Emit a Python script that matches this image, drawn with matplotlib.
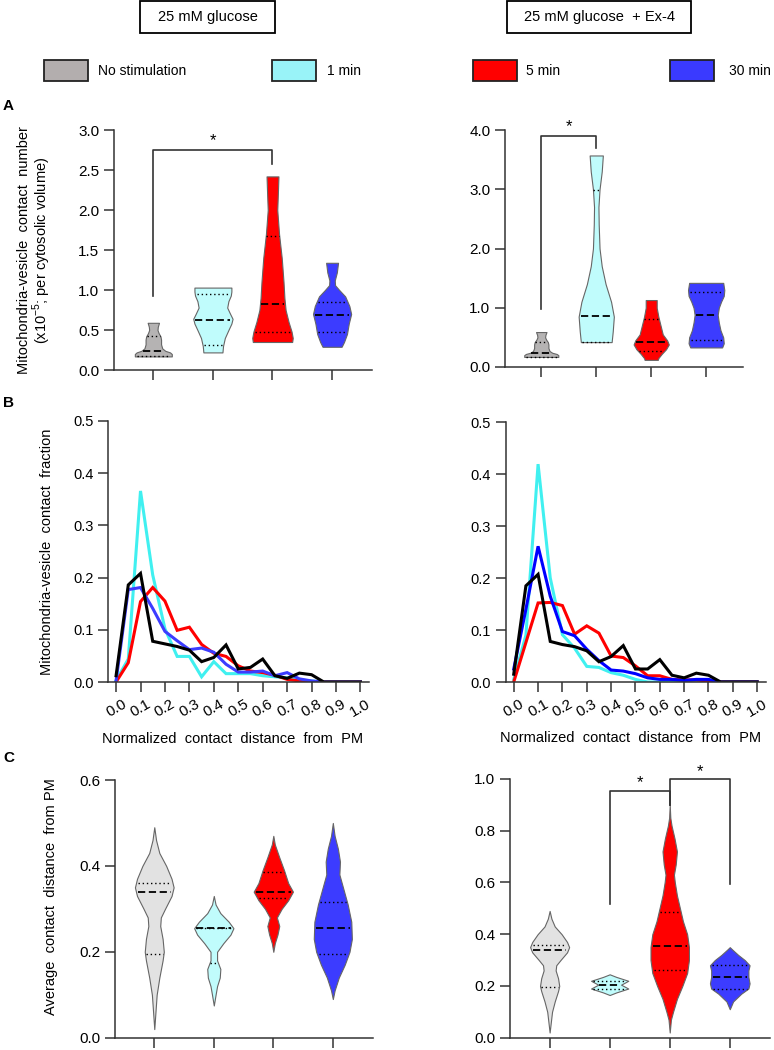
import matplotlib
matplotlib.use("Agg")
import matplotlib.pyplot as plt
import numpy as np
from matplotlib.patches import Rectangle

plt.rcParams['font.family'] = ['Liberation Sans', 'DejaVu Sans']
plt.rcParams['mathtext.fontset'] = 'custom'
plt.rcParams['mathtext.rm'] = 'Liberation Sans'

# ---- data ----
GROUPS = ["No stimulation", "1 min", "5 min", "30 min"]
POSITIONS = [1, 2, 3, 4]

# violin outlines as (value, half width) pairs
A_GLC_NOSTIM = [(0.17, 0.31), (0.20, 0.31), (0.22, 0.28), (0.24, 0.20), (0.27, 0.15), (0.32, 0.13),
                (0.38, 0.13), (0.42, 0.12), (0.46, 0.09), (0.50, 0.07), (0.54, 0.075), (0.59, 0.095)]
A_GLC_1MIN = [(0.22, 0.16), (0.30, 0.17), (0.40, 0.20), (0.50, 0.26), (0.58, 0.31), (0.64, 0.33),
              (0.70, 0.29), (0.78, 0.24), (0.86, 0.26), (0.93, 0.30), (0.98, 0.31), (1.03, 0.31)]
A_GLC_5MIN = [(0.35, 0.33), (0.40, 0.34), (0.48, 0.32), (0.60, 0.27), (0.75, 0.22), (0.90, 0.20),
              (1.10, 0.185), (1.40, 0.155), (1.70, 0.11), (2.00, 0.08), (2.20, 0.09), (2.42, 0.10)]
A_GLC_30MIN = [(0.29, 0.16), (0.35, 0.20), (0.45, 0.25), (0.58, 0.28), (0.70, 0.32), (0.80, 0.29),
               (0.92, 0.22), (1.00, 0.12), (1.06, 0.05), (1.12, 0.045), (1.22, 0.08), (1.34, 0.10)]
A_GLC_QUART = [(0.17, 0.24, 0.42), (0.31, 0.63, 0.95), (0.48, 0.82, 1.68), (0.47, 0.69, 0.85)]

A_EX_NOSTIM = A_GLC_NOSTIM
A_EX_1MIN = [(0.42, 0.28), (0.60, 0.30), (0.85, 0.32), (1.10, 0.27), (1.40, 0.17), (1.70, 0.10),
             (2.00, 0.06), (2.40, 0.045), (2.70, 0.04), (3.00, 0.06), (3.30, 0.10), (3.57, 0.12)]
A_EX_5MIN = [(0.12, 0.12), (0.15, 0.13), (0.22, 0.19), (0.30, 0.27), (0.38, 0.32), (0.45, 0.29),
             (0.55, 0.21), (0.70, 0.17), (0.85, 0.13), (1.00, 0.10), (1.13, 0.10)]
A_EX_30MIN = [(0.33, 0.29), (0.40, 0.32), (0.50, 0.31), (0.62, 0.26), (0.75, 0.23), (0.88, 0.21),
              (1.00, 0.23), (1.10, 0.27), (1.20, 0.32), (1.30, 0.33), (1.42, 0.31)]
A_EX_QUART = [(0.17, 0.24, 0.42), (0.43, 0.86, 2.98), (0.27, 0.43, 0.81), (0.45, 0.88, 1.26)]

DIST = [0.0, 0.05, 0.1, 0.15, 0.2, 0.25, 0.3, 0.35, 0.4, 0.45, 0.5,
        0.55, 0.6, 0.65, 0.7, 0.75, 0.8, 0.85, 0.9, 0.95, 1.0]
B_GLC_CYAN = [0.003, 0.044, 0.366, 0.205, 0.102, 0.049, 0.049, 0.010, 0.039, 0.016, 0.016,
              0.016, 0.012, 0.010, 0.008, 0.004, 0.002, 0.0, 0.0, 0.0, 0.0]
B_GLC_RED = [0.0, 0.037, 0.154, 0.181, 0.155, 0.099, 0.105, 0.072, 0.055, 0.049, 0.031,
             0.021, 0.018, 0.013, 0.005, 0.002, 0.0, 0.0, 0.0, 0.0, 0.0]
B_GLC_BLUE = [0.002, 0.177, 0.181, 0.141, 0.097, 0.079, 0.062, 0.065, 0.057, 0.034, 0.019,
              0.019, 0.021, 0.012, 0.018, 0.006, 0.002, 0.0, 0.0, 0.0, 0.0]
B_GLC_BLACK = [0.012, 0.186, 0.208, 0.078, 0.073, 0.068, 0.061, 0.039, 0.047, 0.071, 0.025,
               0.028, 0.044, 0.012, 0.007, 0.017, 0.014, 0.0, 0.0, 0.0, 0.0]

B_EX_CYAN = [0.005, 0.09, 0.419, 0.20, 0.091, 0.065, 0.030, 0.028, 0.018, 0.013, 0.005,
             0.0, 0.0, 0.0, 0.0, 0.0, 0.0, 0.0, 0.0, 0.0, 0.0]
B_EX_RED = [0.0, 0.076, 0.152, 0.153, 0.147, 0.092, 0.108, 0.094, 0.050, 0.047, 0.031,
            0.012, 0.012, 0.005, 0.004, 0.004, 0.002, 0.0, 0.0, 0.0, 0.0]
B_EX_BLUE = [0.025, 0.14, 0.261, 0.165, 0.097, 0.089, 0.063, 0.041, 0.023, 0.021, 0.016,
             0.008, 0.005, 0.005, 0.003, 0.005, 0.005, 0.0, 0.0, 0.0, 0.0]
B_EX_BLACK = [0.015, 0.185, 0.207, 0.078, 0.072, 0.068, 0.060, 0.039, 0.049, 0.070, 0.025,
              0.025, 0.043, 0.013, 0.008, 0.017, 0.013, 0.0, 0.0, 0.0, 0.0]

C_NOSTIM = [(0.02, 0.0), (0.06, 0.02), (0.10, 0.04), (0.14, 0.085), (0.18, 0.14), (0.20, 0.16),
            (0.23, 0.14), (0.26, 0.10), (0.28, 0.11), (0.30, 0.18), (0.33, 0.29), (0.35, 0.325),
            (0.37, 0.29), (0.40, 0.20), (0.43, 0.085), (0.46, 0.03), (0.49, 0.0)]
C_GLC_1MIN = [(0.075, 0.0), (0.10, 0.03), (0.12, 0.055), (0.14, 0.10), (0.16, 0.11), (0.18, 0.055),
              (0.20, 0.055), (0.22, 0.16), (0.24, 0.28), (0.255, 0.33), (0.27, 0.25), (0.29, 0.11),
              (0.31, 0.03), (0.33, 0.0)]
C_GLC_5MIN = [(0.20, 0.0), (0.22, 0.025), (0.24, 0.07), (0.26, 0.10), (0.28, 0.06), (0.30, 0.14),
              (0.32, 0.25), (0.34, 0.33), (0.36, 0.25), (0.39, 0.18), (0.42, 0.10), (0.45, 0.025),
              (0.47, 0.0)]
C_GLC_30MIN = [(0.09, 0.0), (0.11, 0.03), (0.14, 0.10), (0.17, 0.20), (0.20, 0.28), (0.23, 0.32),
               (0.27, 0.31), (0.31, 0.25), (0.35, 0.17), (0.38, 0.11), (0.41, 0.12), (0.44, 0.085),
               (0.47, 0.03), (0.50, 0.0)]
C_GLC_QUART = [(0.195, 0.34, 0.36), (0.175, 0.255, 0.255), (0.325, 0.34, 0.385), (0.195, 0.255, 0.315)]

C_EX_1MIN = [(0.165, 0.0), (0.175, 0.11), (0.19, 0.31), (0.205, 0.19), (0.22, 0.31), (0.235, 0.11),
             (0.245, 0.0)]
C_EX_5MIN = [(0.02, 0.0), (0.07, 0.02), (0.10, 0.055), (0.15, 0.12), (0.20, 0.21), (0.25, 0.29),
             (0.30, 0.32), (0.35, 0.32), (0.40, 0.29), (0.45, 0.22), (0.50, 0.17), (0.55, 0.12),
             (0.60, 0.085), (0.63, 0.07), (0.67, 0.10), (0.72, 0.12), (0.77, 0.08), (0.82, 0.03),
             (0.85, 0.01), (0.90, 0.0)]
C_EX_30MIN = [(0.11, 0.0), (0.14, 0.055), (0.17, 0.19), (0.19, 0.31), (0.21, 0.33), (0.235, 0.31),
              (0.26, 0.31), (0.28, 0.33), (0.30, 0.25), (0.32, 0.14), (0.34, 0.045), (0.35, 0.0)]
C_EX_QUART = [(0.195, 0.34, 0.36), (0.19, 0.205, 0.22), (0.26, 0.355, 0.485), (0.19, 0.235, 0.28)]

# ---- colours ----
GRAY_A = '#b5b3b3'
GRAY_C = '#e2e2e2'
CYAN_FILL = '#c0fcfc'
RED = '#ff0000'
BLUE_FILL = '#3c3cff'
LEG_COLORS = ['#b3aeae', '#99f3f8', '#ff0000', '#3a3aff']
AX_COL = '#333333'

W, H = 774, 1050
fig = plt.figure(figsize=(W / 100, H / 100), dpi=100)


def fx(px):
    return px / W


def fy(py):
    return 1 - py / H


def draw_violin(ax, pos, profile, quart, face):
    ys = np.array([p[0] for p in profile])
    ws = np.array([p[1] for p in profile])
    ax.fill_betweenx(ys, pos - ws, pos + ws, facecolor=face, edgecolor='#666666', lw=0.8, zorder=2)
    q1, med, q3 = quart
    for y, ls, lw in [(q1, (0, (1, 2)), 1.0), (q3, (0, (1, 2)), 1.0), (med, (0, (4, 2)), 1.3)]:
        w = np.interp(y, ys, ws) * 0.9
        ax.plot([pos - w, pos + w], [y, y], color='black', ls=ls, lw=lw, zorder=3)


def style_ax(ax):
    for s in ['top', 'right']:
        ax.spines[s].set_visible(False)
    for s in ['left', 'bottom']:
        ax.spines[s].set_linewidth(1.1)
        ax.spines[s].set_color(AX_COL)
    ax.tick_params(direction='out', length=7, width=1.1, colors=AX_COL,
                   labelcolor='black', labelsize=11)


def violin_panel(rect, profiles, quarts, faces, ymax, yticks):
    ax = fig.add_axes(rect)
    for pos, prof, q, face in zip(POSITIONS, profiles, quarts, faces):
        draw_violin(ax, pos, prof, q, face)
    ax.set_xlim(0.34, 4.67)
    ax.set_ylim(0, ymax)
    ax.set_xticks(POSITIONS)
    ax.set_xticklabels([])
    ax.set_yticks(yticks)
    ax.set_yticklabels([f"{t:.1f}" for t in yticks])
    style_ax(ax)
    return ax


def bracket(ax, x1, y1, x2, y2, ytop, star_y):
    ax.plot([x1, x1, x2, x2], [y1, ytop, ytop, y2], color=AX_COL, lw=1.2, clip_on=False)
    ax.text((x1 + x2) / 2, star_y, '*', ha='center', va='center', fontsize=12, clip_on=False)


def line_panel(rect, series, colors):
    ax = fig.add_axes(rect)
    for vals, col in zip(series, colors):
        ax.plot(DIST, vals, color=col, lw=2.2, solid_joinstyle='miter')
    ax.set_xlim(-0.033, 1.035)
    ax.set_ylim(0, 0.5)
    xt = [round(0.1 * i, 1) for i in range(11)]
    ax.set_xticks(xt)
    ax.set_xticklabels([f"{t:.1f}" for t in xt], rotation=30, ha='center')
    ax.set_yticks([0, 0.1, 0.2, 0.3, 0.4, 0.5])
    ax.set_yticklabels(['0.0', '0.1', '0.2', '0.3', '0.4', '0.5'])
    style_ax(ax)
    ax.tick_params(labelsize=10.5)
    ax.tick_params(axis='x', labelsize=11)
    ax.set_xlabel("Normalized  contact  distance  from  PM", fontsize=10.5)
    return ax


# ---- header ----
for x0, x1, label in [(140, 275, "25 mM glucose"), (507, 691, "25 mM glucose  + Ex-4")]:
    fig.patches.append(Rectangle((fx(x0), fy(33)), fx(x1 - x0), 32 / H, transform=fig.transFigure,
                                 facecolor='white', edgecolor='black', lw=1.3))
    fig.text(fx((x0 + x1) / 2), fy(17), label, ha='center', va='center', fontsize=10.5)

swatches = [(44, 98), (272, 327), (473, 526), (670, 729)]
for (sx, tx), col, name in zip(swatches, LEG_COLORS, GROUPS):
    fig.patches.append(Rectangle((fx(sx), fy(81)), fx(44), 21 / H, transform=fig.transFigure,
                                 facecolor=col, edgecolor='#222222', lw=1.3))
    fig.text(fx(tx), fy(71), name, ha='left', va='center', fontsize=10)

for letter, y in [("A", 106), ("B", 403), ("C", 758)]:
    fig.text(fx(3), fy(y), letter, ha='left', va='center', fontsize=11, fontweight='bold')

# ---- panel A ----
axA1 = violin_panel([fx(114), fy(370), fx(258), 240 / H],
                    [A_GLC_NOSTIM, A_GLC_1MIN, A_GLC_5MIN, A_GLC_30MIN], A_GLC_QUART,
                    [GRAY_A, CYAN_FILL, RED, BLUE_FILL], 3.0, [0, 0.5, 1.0, 1.5, 2.0, 2.5, 3.0])
axA1.set_ylabel("Mitochondria-vesicle  contact  number\n(x10$^{-5}$; per cytosolic volume)",
                fontsize=10.5, linespacing=1.0)
axA1.yaxis.set_label_coords(-0.235, 0.5)
bracket(axA1, 1, 0.92, 3, 2.58, 2.75, 2.87)

axA2 = violin_panel([fx(505), fy(367), fx(238), 237 / H],
                    [A_EX_NOSTIM, A_EX_1MIN, A_EX_5MIN, A_EX_30MIN], A_EX_QUART,
                    [GRAY_A, CYAN_FILL, RED, BLUE_FILL], 4.0, [0, 1.0, 2.0, 3.0, 4.0])
bracket(axA2, 1, 0.98, 2, 3.7, 3.9, 4.05)

# ---- panel B ----
line_colors_glc = ['#40f0f0', RED, '#3c3cff', 'black']
line_colors_ex = ['#40f0f0', RED, '#0000ff', 'black']
axB1 = line_panel([fx(108), fy(682), fx(261), 261 / H],
                  [B_GLC_CYAN, B_GLC_RED, B_GLC_BLUE, B_GLC_BLACK], line_colors_glc)
axB1.set_ylabel("Mitochondria-vesicle  contact  fraction", fontsize=10.5)
axB1.yaxis.set_label_coords(-0.205, 0.5)
axB1.xaxis.set_label_coords(0.477, -0.19)

axB2 = line_panel([fx(505.7), fy(682), fx(260), 260 / H],
                  [B_EX_CYAN, B_EX_RED, B_EX_BLUE, B_EX_BLACK], line_colors_ex)
axB2.xaxis.set_label_coords(0.481, -0.19)

# ---- panel C ----
axC1 = violin_panel([fx(115), fy(1037.7), fx(257.7), 257.7 / H],
                    [C_NOSTIM, C_GLC_1MIN, C_GLC_5MIN, C_GLC_30MIN], C_GLC_QUART,
                    [GRAY_C, CYAN_FILL, RED, BLUE_FILL], 0.6, [0, 0.2, 0.4, 0.6])
axC1.set_ylabel("Average  contact  distance  from PM", fontsize=10.5)
axC1.yaxis.set_label_coords(-0.22, 0.546)

axC2 = violin_panel([fx(510), fy(1037.7), fx(260), 258.7 / H],
                    [C_NOSTIM, C_EX_1MIN, C_EX_5MIN, C_EX_30MIN], C_EX_QUART,
                    [GRAY_C, CYAN_FILL, RED, BLUE_FILL], 1.0, [0, 0.2, 0.4, 0.6, 0.8, 1.0])
bracket(axC2, 2, 0.515, 3, 0.90, 0.952, 0.985)
bracket(axC2, 3, 0.90, 4, 0.595, 1.0, 1.03)

fig.savefig("out.png", dpi=100)
